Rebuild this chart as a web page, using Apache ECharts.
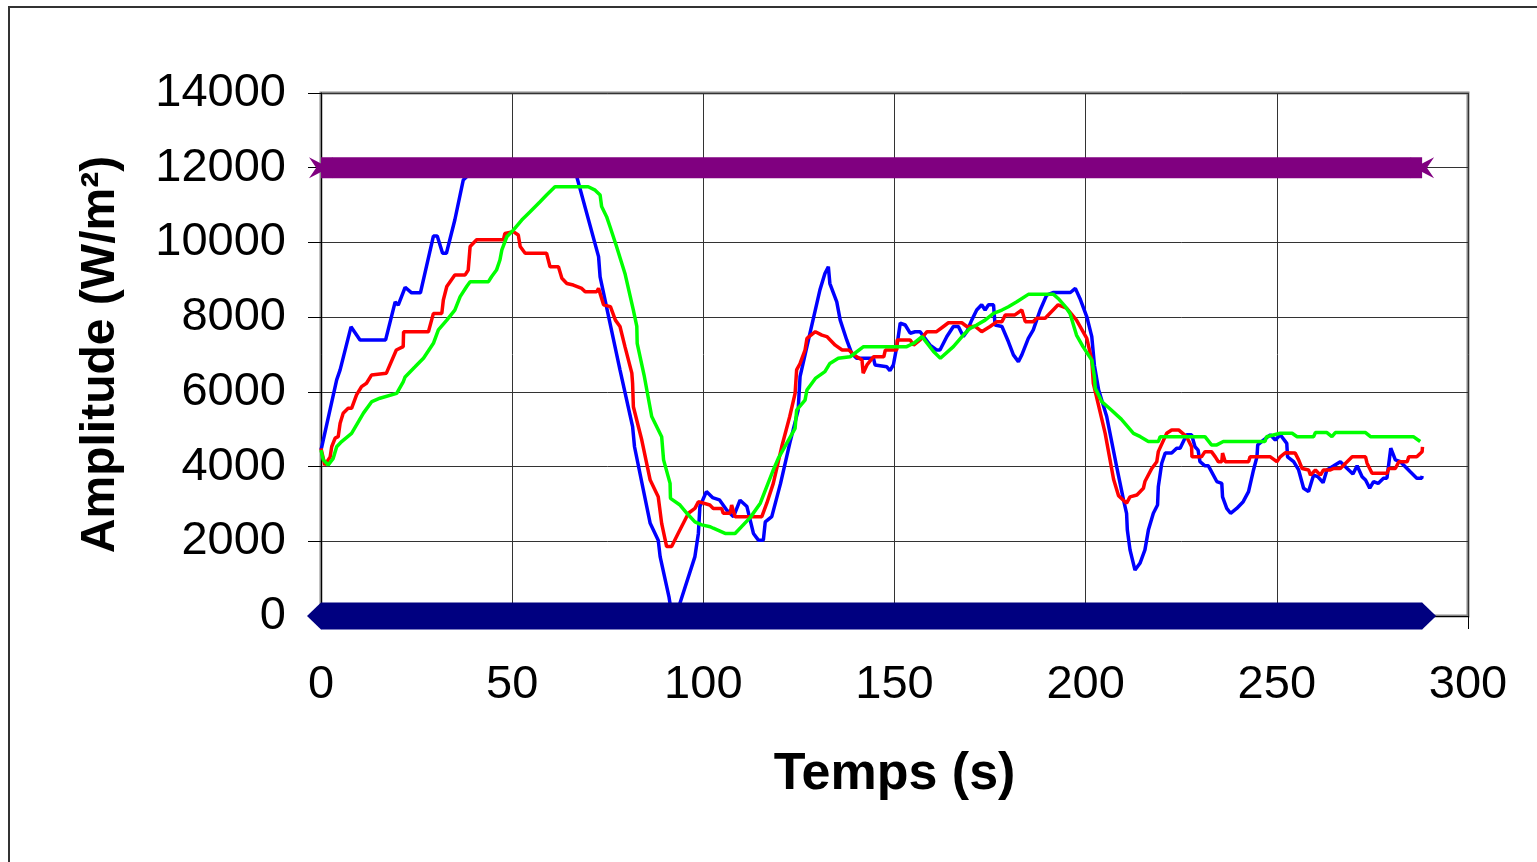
<!DOCTYPE html>
<html>
<head>
<meta charset="utf-8">
<script src="https://cdn.jsdelivr.net/npm/echarts@6/dist/echarts.min.js"></script>
<style>
html,body{margin:0;padding:0;background:#fff;}
#chart{width:1537px;height:862px;}
</style>
</head>
<body>
<div id="chart"></div>
<script>
// ---- data ----
const xTicks = [0, 50, 100, 150, 200, 250, 300];
const yTicks = [0, 2000, 4000, 6000, 8000, 10000, 12000, 14000];

const upperLimit = 12000;
const lowerLimit = 0;
const bandStart = 0;
const bandEnd = 288;

const blueSeries = [[0,4450],[0.2,4530],[4.1,6320],[5,6590],[7.85,7740],[10.2,7390],[16.9,7390],[19.4,8410],[20.2,8320],[22,8800],[23.7,8650],[26,8650],[29.4,10170],[30.4,10170],[31.8,9710],[32.8,9710],[35,10600],[37.2,11670],[38.5,11800],[39.5,12000],[66,12000],[66.9,11760],[72.6,9620],[73,9080],[78.2,6590],[81.5,5070],[82,4530],[86.1,2480],[88.2,2030],[88.7,1590],[91,520],[91.8,0],[93.2,0],[93.9,350],[97.8,1590],[98.7,2210],[99.1,2930],[100.8,3330],[102.4,3170],[104.2,3110],[106.1,2840],[107.9,2660],[109.6,3100],[111.4,2930],[113.1,2210],[114.4,2030],[115.7,2030],[116.2,2520],[117.9,2660],[120.2,3550],[122.6,4620],[124.8,5510],[125.3,6410],[127.9,7570],[130.5,8730],[131.8,9170],[132.7,9350],[133.1,8900],[134.9,8410],[135.8,7920],[137.5,7390],[138.8,7030],[140.1,6900],[144.5,6900],[144.9,6720],[148,6670],[148.8,6570],[149.7,6720],[150.6,7210],[151.5,7840],[152.8,7790],[154.1,7570],[155.4,7610],[156.7,7610],[159.3,7250],[161,7120],[161.9,7120],[163.7,7480],[165.4,7750],[166.7,7750],[168,7480],[168.9,7610],[170.2,7920],[171.5,8190],[172.8,8330],[173.7,8190],[174.6,8330],[175.9,8330],[176.3,7790],[178.1,7750],[179.8,7340],[181.1,6990],[182.4,6810],[183.3,6990],[185,7430],[186.3,7660],[188.1,8190],[189.8,8590],[191.6,8660],[196,8660],[197.3,8770],[198.5,8500],[200.3,8010],[201.6,7480],[202.3,6700],[203.4,6050],[205.5,5340],[208.1,4000],[209.9,3110],[210.7,2750],[210.9,2300],[211.6,1770],[212.9,1230],[214.2,1410],[215.5,1770],[216.4,2300],[217.7,2750],[218.8,2970],[219,3460],[219.9,4090],[220.8,4360],[222.5,4360],[223.8,4490],[224.7,4490],[226.4,4850],[227.7,4850],[228.6,4530],[229.4,4440],[229.9,4130],[231.2,4020],[232.1,4020],[234.3,3600],[235.6,3550],[235.8,3190],[236.9,2880],[237.9,2750],[239.5,2880],[241.2,3060],[242.6,3330],[243.9,3910],[244.8,4260],[245,4580],[246.5,4710],[248.3,4850],[249.6,4710],[250.9,4850],[252.6,4620],[252.8,4260],[254.4,4130],[255.7,3910],[257,3420],[258.3,3330],[259.6,3770],[260.7,3730],[262.1,3570],[263.1,3910],[264.9,4020],[266.6,4130],[268.4,3950],[269.9,3800],[271,4020],[272.3,3730],[273.2,3640],[274.3,3420],[275.3,3600],[276.5,3550],[277.9,3690],[278.8,3690],[279.8,4490],[281,4180],[282.3,4130],[284.9,3860],[286.6,3690],[287.9,3690],[288,3750]];

const redSeries = [[0,4490],[1,4040],[2.4,4260],[2.8,4530],[3.7,4760],[4.5,4800],[5,5160],[5.8,5430],[7.1,5560],[8,5560],[9.3,5920],[10.6,6140],[11.9,6230],[13.2,6450],[17.1,6500],[19.7,7120],[21.5,7210],[21.6,7610],[28.1,7610],[29.4,8100],[31.6,8100],[32,8460],[32.9,8820],[35,9130],[37.7,9130],[38.5,9260],[39,9890],[40.7,10070],[47.7,10070],[48.1,10240],[50.3,10290],[51.6,10200],[52.1,9890],[53.4,9710],[59,9710],[59.9,9350],[62.1,9350],[63,9040],[64.3,8900],[66,8860],[68.2,8770],[69.1,8680],[72.1,8680],[72.6,8770],[73.9,8330],[75.7,8280],[77,7920],[78.2,7750],[79.5,7210],[81.3,6500],[81.5,6230],[81.7,5600],[83.9,4710],[86.1,3640],[88.2,3190],[89.1,2480],[90.4,1860],[91.7,1860],[93.4,2210],[96.1,2750],[97.8,2880],[98.7,3060],[101.7,2970],[102.6,2880],[104.8,2880],[105.2,2750],[107,2750],[107.4,2970],[108.3,2660],[115.3,2660],[116.6,3020],[118.3,3550],[120.5,4530],[122.6,5340],[124,5960],[124.4,6590],[125.3,6760],[126.6,7120],[127.1,7430],[129.3,7610],[131,7520],[132.3,7480],[134.5,7250],[136.3,7120],[138,7120],[140.1,6940],[141.5,6850],[141.8,6500],[142.8,6720],[144.5,6940],[147.2,6940],[147.6,7120],[150.6,7120],[150.7,7390],[154.1,7390],[155,7250],[156.7,7390],[158.5,7610],[161,7610],[162.8,7750],[164.1,7850],[167.6,7850],[168.9,7750],[171.1,7750],[172.8,7610],[175,7750],[176.8,7880],[178.1,7880],[179,8060],[181.5,8060],[183.3,8190],[184.2,7880],[186.3,7880],[187.2,7970],[189.4,7970],[191.1,8150],[192.8,8330],[195,8240],[197.6,7920],[200.3,7430],[201.6,6850],[202,6230],[205.1,4890],[207.3,3660],[208.6,3220],[210.7,3020],[211.6,3190],[213.4,3240],[215.1,3420],[215.5,3600],[217.3,3950],[218.6,4130],[219,4400],[221.2,4890],[222.5,4980],[224.3,4980],[226.4,4800],[227.7,4530],[227.8,4260],[230.3,4260],[231.2,4400],[232.9,4400],[233.9,4260],[234.7,4130],[235.6,4130],[235.8,4360],[236.5,4130],[242.6,4130],[243,4260],[248.3,4260],[250,4130],[250.9,4260],[252.2,4370],[254.8,4360],[255.7,4180],[256.6,3950],[258.3,3910],[258.8,3770],[260.1,3910],[261.4,3770],[262.2,3910],[264,3910],[264.9,3950],[266.6,3950],[269.7,4260],[273.2,4260],[273.6,4090],[274.9,3820],[278.8,3820],[279.3,3950],[281,3950],[281.9,4130],[284.1,4130],[284.5,4260],[286.6,4260],[288,4400],[288.1,4530]];

const greenSeries = [[0,4440],[0.6,4180],[1.9,4040],[3.2,4220],[4.1,4530],[5.4,4670],[8,4890],[8.5,4890],[11.1,5430],[13.3,5740],[15.4,5830],[19.8,5960],[21.5,6270],[22,6400],[24.6,6670],[26.8,6900],[29.4,7300],[30.7,7660],[32.9,7920],[35,8190],[36.4,8550],[38.1,8820],[39,8950],[43.8,8950],[44.6,9080],[45.9,9260],[46.8,9530],[47.3,9800],[48.6,10150],[50.3,10330],[52.5,10600],[54.7,10820],[57.3,11090],[59,11270],[61.2,11490],[69.9,11490],[71.7,11400],[73,11270],[73.4,10960],[74.7,10690],[75.6,10420],[77.3,9890],[79.5,9170],[81.7,8190],[82.6,7750],[82.7,7300],[84.5,6450],[86.5,5340],[89.1,4800],[89.6,4180],[91.3,3550],[91.4,3150],[93.9,2970],[95.7,2750],[97.8,2520],[99.6,2440],[101.8,2390],[102.6,2350],[105.7,2210],[108.3,2210],[112.3,2640],[114.9,3020],[118.3,3910],[119.6,4220],[121.8,4620],[124,5020],[124.4,5510],[126.6,5780],[127.1,6050],[129.3,6360],[131.8,6540],[133.1,6760],[135.3,6900],[138.4,6940],[141.9,7210],[153.2,7210],[155,7300],[157.2,7480],[160.2,7080],[162,6900],[165.4,7210],[168,7520],[169.8,7700],[171.5,7790],[173.7,7920],[175.9,8100],[178.1,8190],[179.8,8280],[182,8410],[185,8610],[191.6,8610],[192.8,8500],[194.7,8280],[195.9,8100],[197.6,7520],[199.3,7210],[201.6,6850],[202.3,6400],[202.5,6100],[204.2,5740],[206.2,5560],[209.3,5270],[212.5,4890],[214.3,4800],[216.4,4670],[219,4670],[219.5,4800],[231.2,4800],[232.9,4580],[234.3,4580],[236,4670],[246.9,4670],[247.3,4800],[250.9,4890],[254,4890],[255.3,4800],[259.6,4800],[260.1,4910],[263.1,4910],[264.4,4800],[265.3,4910],[273.2,4910],[274.5,4800],[285.7,4800],[287.5,4670]];

// ---- chart ----
const FONT = '"Liberation Sans", Arial, sans-serif';
const chart = echarts.init(document.getElementById('chart'), null, {renderer: 'canvas'});
const starPath = 'path://M0,0 L10,6 L20,0 L14,10 L20,20 L10,14 L0,20 L6,10 Z';

chart.setOption({
  animation: false,
  backgroundColor: '#ffffff',
  graphic: [{
    type: 'rect', z: -10, silent: true,
    shape: {x: 9, y: 7, width: 1600, height: 900},
    style: {fill: 'none', stroke: '#333333', lineWidth: 2}
  }],
  grid: {
    left: 321, right: 69, top: 93, bottom: 246,
    outerBoundsMode: 'none',
    show: true, borderColor: '#888888', borderWidth: 3, backgroundColor: 'transparent'
  },
  xAxis: {
    type: 'value', min: xTicks[0], max: xTicks[xTicks.length - 1], interval: 50,
    name: 'Temps (s)', nameLocation: 'middle', nameGap: 133,
    nameTextStyle: {fontFamily: FONT, fontSize: 52, fontWeight: 'bold', color: '#000'},
    axisLine: {show: true, onZero: false, lineStyle: {color: '#000', width: 1}},
    axisTick: {show: true, inside: false, length: 13, lineStyle: {color: '#000', width: 1}},
    axisLabel: {fontFamily: FONT, fontSize: 47, color: '#000', margin: 46,
                formatter: function (v) { return String(v); }},
    splitLine: {show: true, lineStyle: {color: '#333333', width: 1}}
  },
  yAxis: {
    type: 'value', min: yTicks[0], max: yTicks[yTicks.length - 1], interval: 2000,
    name: 'Amplitude (W/m²)', nameLocation: 'middle', nameGap: 196, nameRotate: 90,
    nameTextStyle: {fontFamily: FONT, fontSize: 48, fontWeight: 'bold', color: '#000'},
    axisLine: {show: true, lineStyle: {color: '#000', width: 1}},
    axisTick: {show: true, inside: false, length: 13, lineStyle: {color: '#000', width: 1}},
    axisLabel: {fontFamily: FONT, fontSize: 47, color: '#000', margin: 35,
                formatter: function (v) { return String(v); }},
    splitLine: {show: true, lineStyle: {color: '#333333', width: 1}}
  },
  series: [
    {type: 'line', name: 'blue', data: blueSeries, showSymbol: false, symbol: 'none', z: 2,
     lineStyle: {color: '#0000ff', width: 3.5}},
    {type: 'line', name: 'red', data: redSeries, showSymbol: false, symbol: 'none', z: 3,
     lineStyle: {color: '#ff0000', width: 3.5}},
    {type: 'line', name: 'green', data: greenSeries, showSymbol: false, symbol: 'none', z: 4,
     lineStyle: {color: '#00ff00', width: 3.5}},
    {type: 'line', name: 'upper', data: [[bandStart, upperLimit], [bandEnd, upperLimit]], z: 5, clip: false,
     symbol: starPath, symbolSize: [24, 21], itemStyle: {color: '#800080'},
     lineStyle: {color: '#800080', width: 21}},
    {type: 'line', name: 'lower', data: [[bandStart, lowerLimit], [bandEnd, lowerLimit]], z: 5, clip: false,
     symbol: 'diamond', symbolSize: [28, 27], itemStyle: {color: '#000080'},
     lineStyle: {color: '#000080', width: 27}}
  ]
});
</script>
</body>
</html>
